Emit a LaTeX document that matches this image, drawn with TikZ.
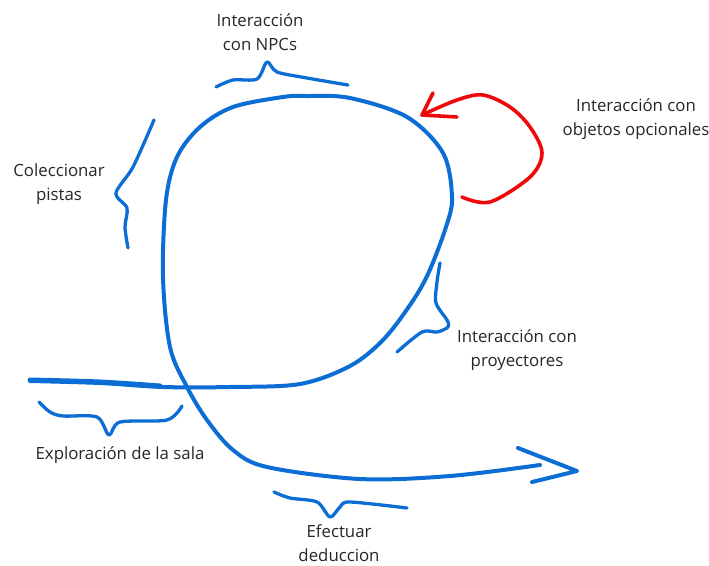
\documentclass[tikz,border=0pt]{standalone}
\usepackage{fontspec}
\setmainfont{Open Sans}
\definecolor{penblue}{RGB}{12,110,212}
\definecolor{penred}{RGB}{238,10,10}
\tikzset{
  pen/.style={draw=penblue, line width=4pt, line cap=round, line join=round},
  redpen/.style={draw=penred, line width=3.6pt, line cap=round, line join=round},
  bracepen/.style={pen, line width=3.3pt},
  lbl/.style={align=center, font=\fontsize{16.8}{24}\selectfont, text=black!85, inner sep=0pt}
}
\begin{document}
\begin{tikzpicture}[x=1pt, y=-1pt]
\useasboundingbox (0,0) rectangle (709,565);

% main stroke: horizontal start, loop, and exit arrow
\draw[pen] plot[smooth, tension=0.55] coordinates {
  (30,381) (100,383) (163,387) (230,387) (300,384) (350,366) (383,340)
  (410,305) (428,274) (446,227) (452,197) (443,153) (407,117) (350,98)
  (307,96) (283,97) (233,107) (200,127) (177,157) (166,200) (163,277)
  (170,347) (187,387) (207,420) (233,450) (267,467) (360,479) (450,476) (540,465)};
\draw[pen, line width=5pt] plot[smooth, tension=0.5] coordinates {(30,380) (100,382) (160,386)};
\draw[pen] (518,448) -- (577,471) -- (532,482);

% optional-object loop
\draw[redpen] plot[smooth, tension=0.55] coordinates {
  (462,197) (490,202) (530,177) (542,153) (530,127) (510,107) (483,95) (457,100) (422,115)};
\draw[redpen] (433,93) -- (422,115) -- (457,117);

% braces
\draw[bracepen] plot[smooth, tension=0.5] coordinates {
  (216,87) (233,80) (257,79) (267,62) (277,72) (307,78) (348,85)};
\draw[bracepen] plot[smooth, tension=0.5] coordinates {
  (154,120) (133,167) (116,193) (127,208) (125,227) (128,248)};
\draw[bracepen] plot[smooth, tension=0.5] coordinates {
  (440,263) (437,282) (436,303) (447,320) (448,327) (437,332) (422,332) (397,352)};
\draw[bracepen] plot[smooth, tension=0.5] coordinates {
  (39,402) (50,412) (63,416) (97,417) (109,435) (120,422) (167,420) (182,406)};
\draw[bracepen] plot[smooth, tension=0.5] coordinates {
  (274,492) (290,498) (317,502) (330,517) (340,507) (350,502) (407,508)};

% labels
\node[lbl] (npc) at (260,32) {Interacción\\con NPCs};
\node[lbl] (pistas) at (59,184) {Coleccionar\\pistas};
\node[lbl] (objetos) at (636,119) {Interacción con\\objetos opcionales};
\node[lbl] (proy) at (517,350) {Interacción con\\proyectores};
\node[lbl] (sala) at (120,455) {Exploración de la sala};
\node[lbl] (deduc) at (339,543) {Efectuar\\deduccion};
\end{tikzpicture}
\end{document}
